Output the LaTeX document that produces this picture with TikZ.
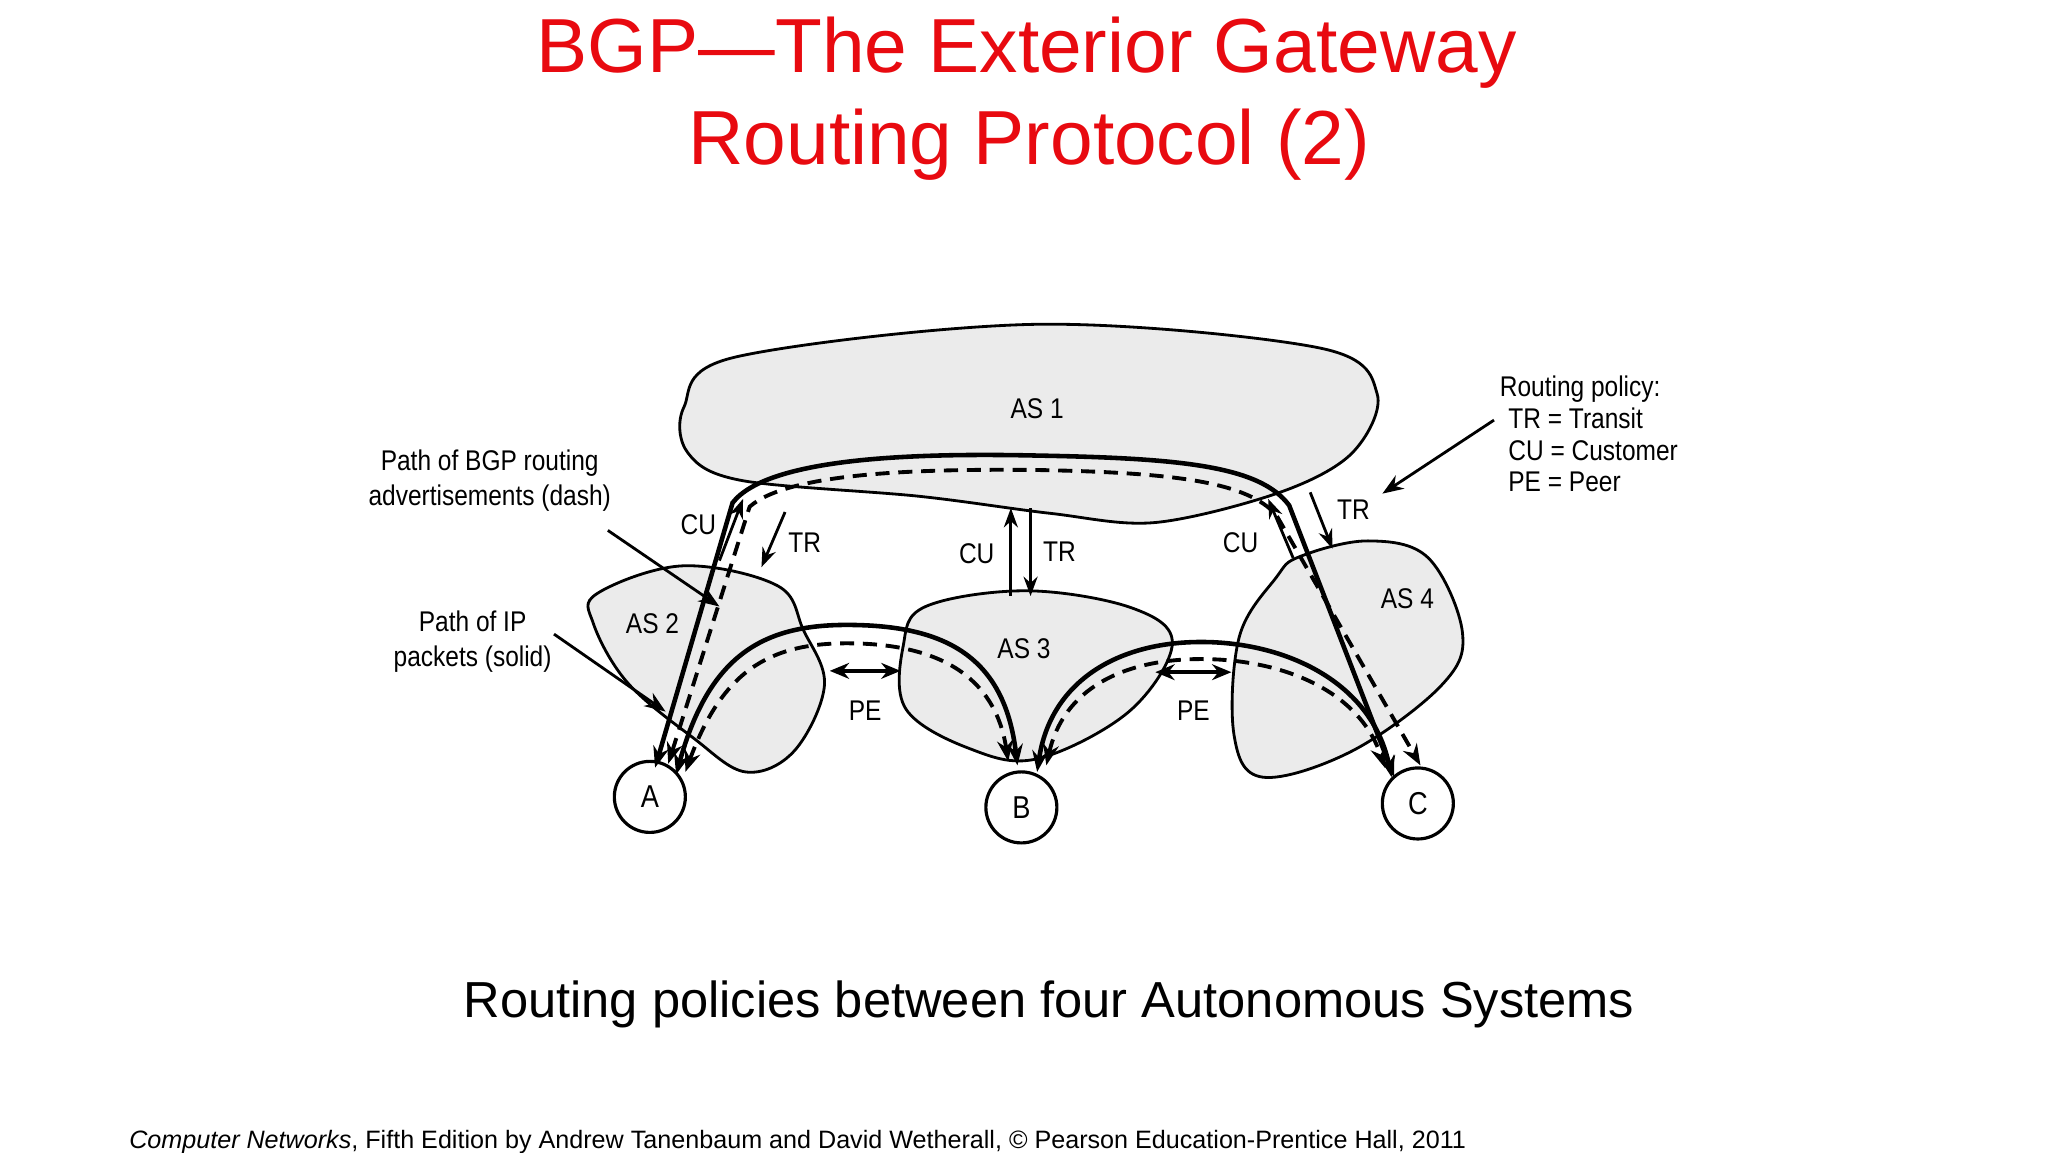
\documentclass[tikz,border=0pt]{standalone}
\usepackage{fontspec}
\setmainfont{Liberation Sans}
\newfontfamily\dfont[FakeStretch=0.86]{Liberation Sans}
\usetikzlibrary{arrows.meta}
\definecolor{ttl}{RGB}{232,10,16}
\definecolor{asfill}{RGB}{235,235,235}
\tikzset{
 asblob/.style={draw=black,line width=0.8pt,fill=asfill},
 host/.style={circle,draw,line width=0.9pt,minimum size=0.71cm,inner sep=0pt,fill=white,font=\dfont\fontsize{9}{10}\selectfont},
 lbl/.style={font=\dfont\fontsize{8.1}{10}\selectfont,align=center},
 ip/.style={line width=1.3pt,{Stealth[length=6pt,width=4.5pt]}-{Stealth[length=6pt,width=4.5pt]}},
 adv/.style={line width=1.1pt,dash pattern=on 4pt off 2.5pt,{Stealth[length=6pt,width=4.5pt]}-{Stealth[length=6pt,width=4.5pt]}},
 pol/.style={line width=0.8pt,-{Stealth[length=5.5pt,width=4pt]}},
 pe/.style={line width=1.3pt,{Stealth[length=5.5pt,width=4.5pt]}-{Stealth[length=5.5pt,width=4.5pt]}},
 note/.style={line width=0.8pt,-{Stealth[length=6pt,width=4.5pt]}}
}
\begin{document}
\begin{tikzpicture}[x=0.013128cm,y=-0.013128cm]
\useasboundingbox (0,0) rectangle (1560,877.5);
% title
\node[text=ttl,font=\fontsize{21.8}{26}\selectfont] (t1) at (782,40) {BGP---The Exterior Gateway};
\node[text=ttl,font=\fontsize{21.8}{26}\selectfont] (t2) at (784,110) {Routing Protocol (2)};
% AS blobs
\draw[asblob] plot[smooth cycle,tension=0.55] coordinates {(521,310) (560,272) (790,247) (1005,265) (1049,300) (1030,345) (975,375) (880,398) (800,391) (700,378) (565,366) (524,345)};
\draw[asblob] plot[smooth cycle,tension=0.6] coordinates {(455,452) (520,431) (592,446) (612,480) (628,522) (605,572) (568,588) (528,562) (478,520) (452,475)};
\draw[asblob] plot[smooth cycle,tension=0.6] coordinates {(705,462) (782,450) (862,463) (893,490) (860,542) (790,578) (738,570) (690,540) (688,492)};
\draw[asblob] plot[smooth cycle,tension=0.6] coordinates {(990,424) (1042,412) (1088,425) (1114,482) (1098,522) (1030,572) (962,592) (940,560) (944,485) (972,440)};
\node[lbl] (as1) at (790,311) {AS 1};
\node[lbl] (as2) at (497,475) {AS 2};
\node[lbl] (as3) at (780,494) {AS 3};
\node[lbl] (as4) at (1072,456) {AS 4};
% hosts
\node[host] (A) at (495,607) {A};
\node[host] (B) at (778,615) {B};
\node[host] (C) at (1080,612) {C};
% long A-C paths
\draw[ip] (A.north)++(4,6) coordinate (a1) -- (558,383) .. controls (585,348) and (700,345) .. (790,347) .. controls (900,349) and (960,355) .. (982,385) -- (1062,592);
\draw[adv] (a1)++(10,-3) -- (571,386) .. controls (600,360) and (700,357) .. (790,358) .. controls (900,360) and (950,368) .. (972,392) -- (1082,583);
% A-B arc
\draw[ip] (515,590) .. controls (540,500) and (580,476) .. (645,476) .. controls (720,476) and (765,500) .. (775,583);
\draw[adv] (522,588) .. controls (550,512) and (585,490) .. (645,490) .. controls (715,490) and (758,515) .. (768,580);
% B-C arc
\draw[ip] (790,588) .. controls (800,520) and (850,489) .. (915,489) .. controls (980,489) and (1045,520) .. (1060,592);
\draw[adv] (797,583) .. controls (810,525) and (855,502) .. (915,502) .. controls (975,502) and (1035,525) .. (1055,585);
% policy arrows
\draw[pol] (548,427) -- (566,380);
\draw[pol] (598,390) -- (580,432);
\draw[pol] (770,454) -- (770,387);
\draw[pol] (785,387) -- (785,454);
\draw[pol] (985,425) -- (966,380);
\draw[pol] (998,375) -- (1015,418);
\node[lbl] (cu1) at (532,400) {CU};
\node[lbl] (tr1) at (613,413) {TR};
\node[lbl] (cu2) at (744,422) {CU};
\node[lbl] (tr2) at (807,420) {TR};
\node[lbl] (cu3) at (945,413) {CU};
\node[lbl] (tr3) at (1031,388) {TR};
% peer arrows
\draw[pe] (632,511) -- (686,511);
\draw[pe] (880,512) -- (938,512);
\node[lbl] (pe1) at (659,541) {PE};
\node[lbl] (pe2) at (909,541) {PE};
% notes
\node[lbl] (n1) at (373,366) {Path of BGP routing\\advertisements (dash)};
\coordinate (n1e) at (548,462);
\draw[note] (463,404) -- (n1e);
\node[lbl] (n2) at (360,489) {Path of IP\\packets (solid)};
\coordinate (n2e) at (507,542);
\draw[note] (422,483) -- (n2e);
\node[lbl,align=left,anchor=north west] (rp) at (1133,277) {Routing policy:\\[-1pt]\hspace{0.3em}TR = Transit\\[-1pt]\hspace{0.3em}CU = Customer\\[-1pt]\hspace{0.3em}PE = Peer};
\coordinate (rpe) at (1053,376);
\draw[note] (1138,320) -- (rpe);
% captions
\node[font=\fontsize{14.4}{17}\selectfont] (cap) at (799,765) {Routing policies between four Autonomous Systems};
\node[font=\fontsize{7.15}{9}\selectfont,anchor=west] (ft) at (89,870) {\textit{Computer Networks}, Fifth Edition by Andrew Tanenbaum and David Wetherall, \textcopyright{} Pearson Education-Prentice Hall, 2011};
\end{tikzpicture}
\end{document}
